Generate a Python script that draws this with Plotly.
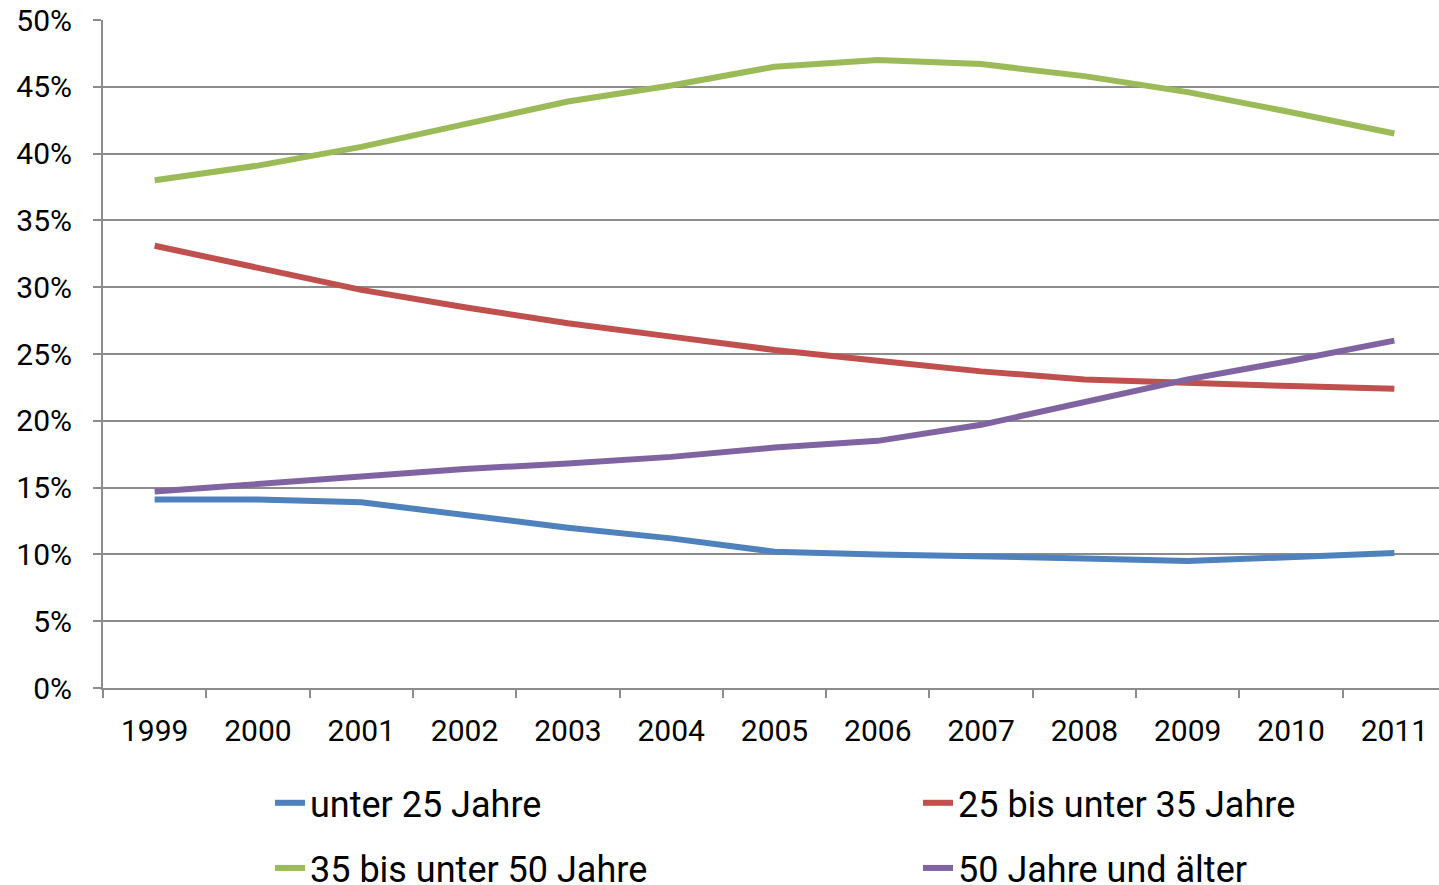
import plotly.graph_objects as go

years = ["1999", "2000", "2001", "2002", "2003", "2004", "2005", "2006", "2007", "2008", "2009", "2010", "2011"]
unter25 = [14.1, 14.1, 13.9, 12.9, 12.0, 11.2, 10.2, 10.0, 9.9, 9.7, 9.5, 9.8, 10.1]
bis35 = [33.1, 31.5, 29.8, 28.5, 27.3, 26.3, 25.3, 24.5, 23.7, 23.1, 22.8, 22.6, 22.4]
bis50 = [38.0, 39.1, 40.5, 42.2, 43.9, 45.1, 46.5, 47.0, 46.7, 45.8, 44.6, 43.1, 41.5]
ab50 = [14.7, 15.3, 15.8, 16.4, 16.8, 17.3, 18.0, 18.5, 19.7, 21.4, 23.1, 24.5, 26.0]

series = [
    ("unter 25 Jahre", unter25, "#4F81BD", "legend"),
    ("25 bis unter 35 Jahre", bis35, "#C0504D", "legend"),
    ("35 bis unter 50 Jahre", bis50, "#9BBB59", "legend2"),
    ("50 Jahre und älter", ab50, "#8064A2", "legend2"),
]

fig = go.Figure()
for name, vals, color, lg in series:
    fig.add_trace(go.Scatter(x=years, y=vals, name=name, mode="lines",
                             line=dict(color=color, width=6), legend=lg))

FONT = "Roboto"
grid = "#8C8C8C"
plot_w = 1343
legend_common = dict(orientation="h", xanchor="left", yanchor="middle",
                     entrywidth=603, entrywidthmode="pixels",
                     font=dict(size=36, family=FONT), bgcolor="rgba(0,0,0,0)")
lx = (270 - 103) / plot_w
fig.update_layout(
    width=103 + plot_w, height=885,
    margin=dict(l=103, r=0, t=20, b=197, autoexpand=False),
    paper_bgcolor="white", plot_bgcolor="white",
    font=dict(family=FONT, color="black", size=30),
    legend=dict(x=lx, y=-0.172, **legend_common),
    legend2=dict(x=lx, y=-0.2695, **legend_common),
    showlegend=True,
)
fig.update_xaxes(type="category", range=[-0.5, 12.5], tickson="boundaries",
                 ticks="outside", ticklen=8, tickcolor=grid, tickwidth=2,
                 showline=True, linecolor=grid, linewidth=2, showgrid=False,
                 tickfont=dict(size=30), ticklabelstandoff=15)
fig.update_yaxes(range=[0, 50], dtick=5, ticksuffix="%", ticks="outside", ticklen=8,
                 tickcolor=grid, tickwidth=2, showline=True, linecolor=grid, linewidth=2,
                 showgrid=True, gridcolor=grid, gridwidth=2, zeroline=False,
                 tickfont=dict(size=30), ticklabelstandoff=15)

fig.write_html("out.html", config={"displayModeBar": False},
               post_script="document.body.style.margin='0';document.body.style.overflow='hidden';")
